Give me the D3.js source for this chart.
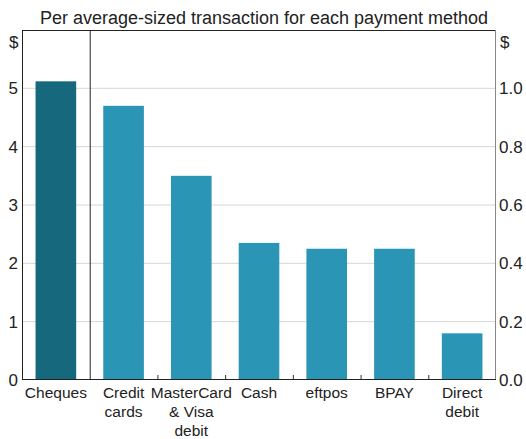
<!DOCTYPE html>
<html>
<head>
<meta charset="utf-8">
<script src="https://cdn.jsdelivr.net/npm/d3@7"></script>
<style>
  body { margin: 0; background: #fff; }
  text { font-family: "Liberation Sans", Arial, sans-serif; fill: #222; }
</style>
</head>
<body>
<div id="chart"></div>
<script>
// data
var categories = ["Cheques", "Credit cards", "MasterCard & Visa debit", "Cash", "eftpos", "BPAY", "Direct debit"];
var labelLines = [["Cheques"], ["Credit", "cards"], ["MasterCard", "& Visa", "debit"], ["Cash"], ["eftpos"], ["BPAY"], ["Direct", "debit"]];
// cheques is read on the left axis, the rest on the right axis
var leftValues = [5.12, null, null, null, null, null, null];
var rightValues = [null, 0.94, 0.70, 0.47, 0.45, 0.45, 0.16];
var leftTicks = [0, 1, 2, 3, 4, 5];
var rightTicks = [0, 0.2, 0.4, 0.6, 0.8, 1.0];

var svgWidth = 526, svgHeight = 439;
var margin = {top: 30, right: 30, bottom: 59, left: 22};
var width = svgWidth - margin.left - margin.right;
var height = svgHeight - margin.top - margin.bottom;

var svg = d3.select("#chart").append("svg")
    .attr("width", svgWidth)
    .attr("height", svgHeight);

var g = svg.append("g")
    .attr("transform", `translate(${margin.left}, ${margin.top})`);

var x = d3.scaleBand().domain(categories).range([0, width]).paddingInner(0.4).paddingOuter(0.2);
var xEdge = d3.scaleBand().domain(categories).range([0, width]);
var yLeft = d3.scaleLinear().domain([0, 6]).range([height, 0]);
var yRight = d3.scaleLinear().domain([0, 1.2]).range([height, 0]);

// gridlines
g.selectAll(".grid").data(leftTicks.slice(1)).enter().append("line")
    .attr("x1", 0).attr("x2", width)
    .attr("y1", d => yLeft(d)).attr("y2", d => yLeft(d))
    .attr("stroke", "#d6d6d6").attr("stroke-width", 1);

// bars
g.selectAll(".barL").data(categories).enter()
    .filter((d, i) => leftValues[i] != null)
    .append("rect")
    .attr("x", d => x(d))
    .attr("width", x.bandwidth())
    .attr("y", d => yLeft(leftValues[categories.indexOf(d)]))
    .attr("height", d => height - yLeft(leftValues[categories.indexOf(d)]))
    .attr("fill", "#16687c");

g.selectAll(".barR").data(categories).enter()
    .filter((d, i) => rightValues[i] != null)
    .append("rect")
    .attr("x", d => x(d))
    .attr("width", x.bandwidth())
    .attr("y", d => yRight(rightValues[categories.indexOf(d)]))
    .attr("height", d => height - yRight(rightValues[categories.indexOf(d)]))
    .attr("fill", "#2b95b5");

// category separator ticks on the bottom axis
g.selectAll(".sep").data(categories.slice(2)).enter().append("line")
    .attr("x1", d => xEdge(d) + 0.5).attr("x2", d => xEdge(d) + 0.5)
    .attr("y1", height).attr("y2", height - 5)
    .attr("stroke", "#333");

// divider between cheques and the rest
g.append("line")
    .attr("x1", xEdge(categories[1]) + 0.5).attr("x2", xEdge(categories[1]) + 0.5)
    .attr("y1", 0).attr("y2", height)
    .attr("stroke", "#222");

// frame
g.append("line").attr("x1", 0).attr("x2", width).attr("y1", 0.5).attr("y2", 0.5).attr("stroke", "#222");
g.append("line").attr("x1", 0.5).attr("x2", 0.5).attr("y1", 0).attr("y2", height).attr("stroke", "#222");
g.append("line").attr("x1", width - 0.5).attr("x2", width - 0.5).attr("y1", 0).attr("y2", height).attr("stroke", "#888");
g.append("line").attr("x1", 0).attr("x2", width).attr("y1", height - 0.5).attr("y2", height - 0.5).attr("stroke", "#222");

// left axis labels
var leftAxis = d3.axisLeft(yLeft).tickValues(leftTicks).tickSize(0).tickPadding(4).tickFormat(d3.format("d"));
var la = g.append("g").call(leftAxis);
la.select(".domain").remove();
la.selectAll("text").style("font-size", "17px").attr("fill", "#222");

var rightAxis = d3.axisRight(yRight).tickValues(rightTicks).tickSize(0).tickPadding(3).tickFormat(d3.format(".1f"));
var ra = g.append("g").attr("transform", `translate(${width}, 0)`).call(rightAxis);
ra.select(".domain").remove();
ra.selectAll("text").style("font-size", "17px").attr("fill", "#222");

// units
svg.append("text").attr("x", 9).attr("y", 48).style("font-size", "17px").text("$");
svg.append("text").attr("x", 500).attr("y", 48).style("font-size", "17px").text("$");

// x labels
var xl = g.selectAll(".xlab").data(categories).enter().append("text")
    .attr("text-anchor", "middle")
    .attr("transform", d => `translate(${x(d) + x.bandwidth() / 2}, ${height + 18})`)
    .style("font-size", "15.5px");
xl.selectAll("tspan").data((d, i) => labelLines[i]).enter().append("tspan")
    .attr("x", 0).attr("y", (d, i) => i * 19)
    .text(d => d);

// title
svg.append("text")
    .attr("x", svgWidth / 2 + 1).attr("y", 24)
    .attr("text-anchor", "middle")
    .style("font-size", "18px")
    .text("Per average-sized transaction for each payment method");
</script>
</body>
</html>
